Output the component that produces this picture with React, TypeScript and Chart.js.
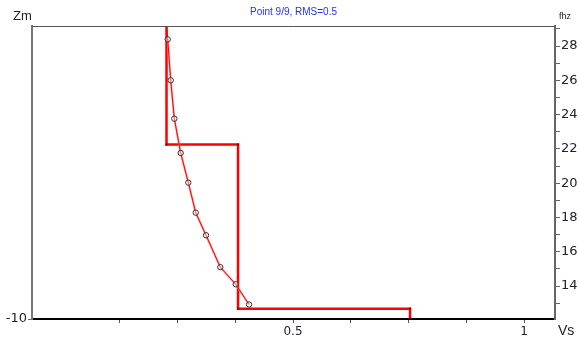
import React, { useEffect, useRef } from "react";
import { Chart, registerables } from "chart.js";

Chart.register(...registerables);

// Axis ticks
const vsTicks = [0.125, 0.25, 0.375, 0.5, 0.625, 0.75, 0.875, 1];
const vsLabels: Record<string, string> = { "0.5": "0.5", "1": "1" };
const freqTicks = [13, 14, 15, 16, 17, 18, 19, 20, 21, 22, 23, 24, 25, 26, 27, 28, 29];
const freqLabelTicks = [14, 16, 18, 20, 22, 24, 26, 28];
const depthTicks = [-10];

// Step velocity profile
const profileVs = [0.2262, 0.2262, 0.381, 0.381, 0.7532, 0.7532];
const profileF = [29.17, 22.25, 22.25, 12.68, 12.68, 12.08];

// Observed points (markers)
const obsVs = [0.2288, 0.2353, 0.2431, 0.2569, 0.2734, 0.2894, 0.3117, 0.3426, 0.376, 0.4048];
const obsF = [28.39, 26.0, 23.76, 21.76, 20.03, 18.28, 16.96, 15.1, 14.1, 12.92];

// Calculated curve
const calcVs = [0.2268, 0.2288, 0.2353, 0.2431, 0.2569, 0.2734, 0.2894, 0.3117, 0.3426, 0.376, 0.4048];
const calcF = [29.17, 28.39, 26.0, 23.76, 21.76, 20.03, 18.28, 16.96, 15.1, 14.1, 12.92];

const X_MIN = -0.0649;
const X_MAX = 1.067;
const F_MIN = 12.075;
const F_MAX = 29.167;

const zip = (xs: number[], ys: number[]) => xs.map((x, i) => ({ x, y: ys[i] }));

const FONT = "'Liberation Sans', Arial, sans-serif";
const TICK_FONT = "'DejaVu Sans', Verdana, sans-serif";

const textPlugin = {
  id: "texts",
  afterDraw(chart: any) {
    const { ctx, chartArea } = chart;
    ctx.save();
    // top border
    ctx.strokeStyle = "#555";
    ctx.lineWidth = 1;
    ctx.beginPath();
    ctx.moveTo(chartArea.left, chartArea.top + 0.5);
    ctx.lineTo(chartArea.right, chartArea.top + 0.5);
    ctx.stroke();

    ctx.fillStyle = "#222233";
    ctx.textBaseline = "alphabetic";
    ctx.textAlign = "left";
    ctx.font = `13px ${FONT}`;
    ctx.fillText("Zm", 13, 20);
    ctx.font = `14px ${FONT}`;
    ctx.fillText("Vs", 558, 335);
    ctx.font = `9px ${FONT}`;
    ctx.fillText("fhz", 559, 19);

    ctx.fillStyle = "#2233ff";
    ctx.font = `10px ${FONT}`;
    ctx.textAlign = "center";
    ctx.fillText("Point 9/9, RMS=0.5", (chartArea.left + chartArea.right) / 2, 15);
    ctx.restore();
  },
};

export default function App() {
  const ref = useRef<HTMLCanvasElement | null>(null);

  useEffect(() => {
    if (!ref.current) return;
    const chart = new Chart(ref.current, {
      type: "scatter",
      data: {
        datasets: [
          {
            label: "obs",
            data: zip(obsVs, obsF),
            showLine: false,
            pointStyle: "circle",
            pointRadius: 2.7,
            pointBorderWidth: 1,
            pointBorderColor: "#333",
            pointBackgroundColor: "rgba(255,255,255,0.4)",
            yAxisID: "y",
            order: 0,
          },
          {
            label: "calc",
            data: zip(calcVs, calcF),
            showLine: true,
            borderColor: "#ff0000",
            borderWidth: 1,
            pointRadius: 0,
            yAxisID: "y",
            order: 1,
          },
          {
            label: "calc2",
            data: zip(obsVs, obsF),
            showLine: true,
            borderColor: "rgba(255,120,120,0.75)",
            borderWidth: 2,
            pointRadius: 0,
            yAxisID: "y",
            order: 2,
          },
          {
            label: "profile",
            data: zip(profileVs, profileF),
            showLine: true,
            borderColor: "#ff0000",
            borderWidth: 2.5,
            pointStyle: "rect",
            pointRadius: 1.5,
            pointBorderWidth: 0,
            pointBackgroundColor: "#8a0000",
            yAxisID: "y",
            order: 3,
          },
        ],
      },
      options: {
        responsive: false,
        animation: false,
        devicePixelRatio: 1,
        layout: { padding: { top: 26, left: 0, right: 0, bottom: 0 } },
        plugins: {
          legend: { display: false },
          tooltip: { enabled: false },
          title: { display: false },
        },
        scales: {
          x: {
            type: "linear",
            position: "bottom",
            min: X_MIN,
            max: X_MAX,
            afterBuildTicks: (axis: any) => {
              axis.ticks = vsTicks.map((v) => ({ value: v }));
            },
            afterFit: (axis: any) => {
              axis.height = 26;
            },
            ticks: {
              autoSkip: false,
              maxRotation: 0,
              padding: 2,
              color: "#222233",
              font: { family: TICK_FONT, size: 12 },
              callback: (v: any) => vsLabels[String(v)] ?? "",
            },
            grid: { drawOnChartArea: false, drawTicks: true, tickLength: 4, color: "#555", lineWidth: 1 },
            border: { display: true, color: "#000", width: 2 },
          },
          y: {
            type: "linear",
            position: "right",
            min: F_MIN,
            max: F_MAX,
            afterBuildTicks: (axis: any) => {
              axis.ticks = freqTicks.map((v) => ({ value: v }));
            },
            afterFit: (axis: any) => {
              axis.width = 24;
            },
            ticks: {
              autoSkip: false,
              padding: 1,
              color: "#222233",
              font: { family: TICK_FONT, size: 13 },
              callback: (v: any) => (freqLabelTicks.includes(Number(v)) ? String(v) : ""),
            },
            grid: { drawOnChartArea: false, drawTicks: true, tickLength: 5, color: "#666", lineWidth: 1 },
            border: { display: true, color: "#666", width: 2 },
          },
          yl: {
            type: "linear",
            position: "left",
            min: -10,
            max: 0,
            afterBuildTicks: (axis: any) => {
              axis.ticks = depthTicks.map((v) => ({ value: v }));
            },
            afterFit: (axis: any) => {
              axis.width = 32;
            },
            ticks: {
              autoSkip: false,
              padding: 1,
              color: "#222233",
              font: { family: TICK_FONT, size: 13 },
            },
            grid: { drawOnChartArea: false, drawTicks: true, tickLength: 4, color: "#666", lineWidth: 1 },
            border: { display: true, color: "#777", width: 2 },
          },
        },
      },
      plugins: [textPlugin],
    } as any);
    return () => chart.destroy();
  }, []);

  return (
    <div style={{ position: "absolute", left: 0, top: 0, width: 579, height: 345, background: "#fff" }}>
      <canvas ref={ref} width={579} height={345} />
    </div>
  );
}
